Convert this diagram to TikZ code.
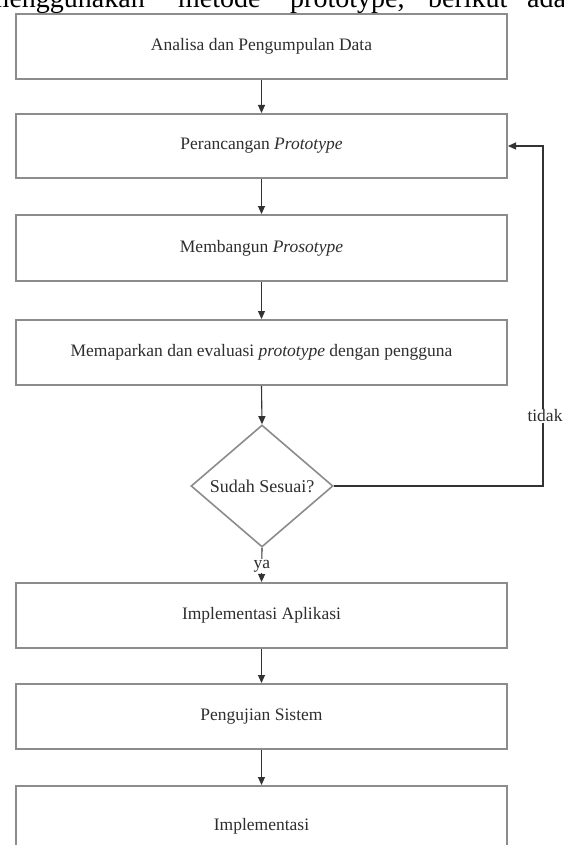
\documentclass[tikz,border=0pt]{standalone}
\usepackage{fontspec}
\setmainfont{Liberation Serif}
\usetikzlibrary{arrows.meta,shapes.geometric}
\definecolor{boxc}{gray}{0.55}
\definecolor{linec}{gray}{0.2}
\definecolor{txtc}{gray}{0.18}
\tikzset{
  stepbox/.style={draw=boxc, line width=2pt, fill=white, rectangle,
    minimum width=491pt, inner sep=0pt, text=txtc,
    font=\fontsize{17.5}{20}\selectfont},
  decide/.style={draw=boxc, line width=1.6pt, fill=white, diamond,
    minimum width=142pt, minimum height=122pt, inner sep=0pt, text=txtc,
    font=\fontsize{18}{20}\selectfont},
  arr/.style={draw=linec, line width=1.1pt, -{Triangle[length=8pt,width=7pt]}},
  plain/.style={draw=linec, line width=1.1pt},
  lbl/.style={fill=white, inner sep=1pt, text=txtc, font=\fontsize{17.5}{20}\selectfont},
  toptext/.style={inner sep=0pt, font=\fontsize{28}{30}\selectfont}
}
\begin{document}
\begin{tikzpicture}[x=1pt,y=-1pt]
\useasboundingbox (0,0) rectangle (564,845);
\clip (0,0) rectangle (564,845);
\fill[white] (0,0) rectangle (564,845);
% clipped text line at the top
\node[toptext, anchor=base east] (w1) at (145,8) {menggunakan};
\node[toptext, anchor=base west] (w2) at (178,8) {metode};
\node[toptext, anchor=base west] (w3) at (290,8) {prototype,};
\node[toptext, anchor=base west] (w4) at (428,8) {berikut};
\node[toptext, anchor=base west] (w5) at (527,8) {ada};
% boxes
\node[stepbox, minimum height=65pt] (b1) at (261.5,46.5) {Analisa dan Pengumpulan Data};
\node[stepbox, minimum height=64pt] (b2) at (261.5,146) {Perancangan \textit{Prototype}};
\node[stepbox, minimum height=66pt] (b3) at (261.5,248) {Membangun \textit{Prosotype}};
\node[stepbox, minimum height=65pt] (b4) at (261.5,352.5) {Memaparkan dan evaluasi \textit{prototype} dengan pengguna};
\node[decide] (d) at (262,486) {Sudah Sesuai?};
\node[stepbox, minimum height=65pt] (b5) at (261.5,615.5) {Implementasi Aplikasi};
\node[stepbox, minimum height=65pt] (b6) at (261.5,716.5) {Pengujian Sistem};
\node[stepbox, minimum height=80pt] (b7) at (261.5,826) {Implementasi};
% connectors
\draw[arr] (b1.south) -- (b2.north);
\draw[arr] (b2.south) -- (b3.north);
\draw[arr] (b3.south) -- (b4.north);
\draw[arr] (b4.south) -- (d.north);
\draw[arr] (d.south) -- (b5.north);
\draw[arr] (b5.south) -- (b6.north);
\draw[arr] (b6.south) -- (b7.north);
\coordinate (f1) at (543,486);
\coordinate (f2) at (543,146);
\draw[arr] (d.east) -- (f1) -- (f2) -- (b2.east);
\node[lbl] (ya) at (262,566) {ya};
\node[lbl] (tidak) at (545,416) {tidak};
\end{tikzpicture}
\end{document}
